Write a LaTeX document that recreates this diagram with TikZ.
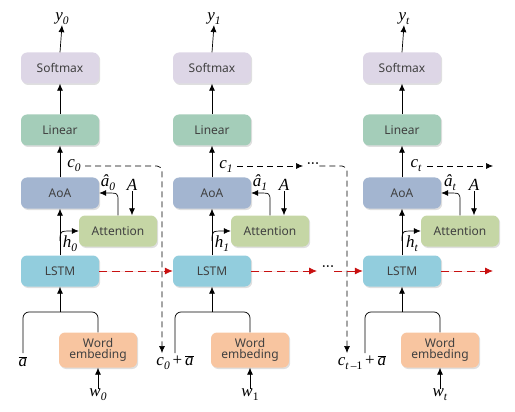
\documentclass[tikz,border=0pt]{standalone}
\usepackage{fontspec}
\newfontfamily\boxfont{Noto Sans}
\newfontfamily\labfont{Liberation Serif}
\usetikzlibrary{arrows.meta,shadows,calc}
\definecolor{csoft}{RGB}{221,214,230}
\definecolor{clin}{RGB}{164,205,185}
\definecolor{caoa}{RGB}{163,181,208}
\definecolor{catt}{RGB}{197,214,165}
\definecolor{clstm}{RGB}{146,205,221}
\definecolor{cwe}{RGB}{248,197,160}
\definecolor{ctxt}{RGB}{64,64,64}
\definecolor{cred}{RGB}{200,16,16}
\newcommand\lsub[1]{\raisebox{-4pt}{\fontsize{11.5}{12}\selectfont #1}}
\newcommand\lv[2]{\textit{#1}\lsub{\textit{#2}}}
\newcommand\abar{$\overline{\hbox{\textit{a}}}$}
\tikzset{
  blk/.style={rounded corners=6pt, minimum width=78pt, minimum height=31pt, inner sep=0pt,
    font=\boxfont\fontsize{12}{13.5}\selectfont, text=ctxt, align=center,
    drop shadow={opacity=0.25, shadow xshift=1.2pt, shadow yshift=-1.5pt}},
  lab/.style={inner sep=0pt, font=\labfont\fontsize{17}{19}\selectfont},
  arr/.style={-{Latex[length=7pt,width=6pt]}, line width=0.7pt, draw=black},
  ln/.style={line width=0.7pt},
  cdash/.style={-{Latex[length=7pt,width=6pt]}, line width=0.7pt, dash pattern=on 6pt off 4pt},
  rdash/.style={-{Latex[length=8pt,width=7pt]}, line width=0.8pt, draw=cred, fill=cred, dash pattern=on 8pt off 5pt},
  dots/.style={inner sep=0pt, font=\bfseries\fontsize{13}{13}\selectfont},
}
\begin{document}
\begin{tikzpicture}[x=1pt,y=-1pt]
\path[use as bounding box] (0,0) rectangle (515,412);
\foreach \n/\xc/\s in {0/60/0, 1/212/1, 2/402/t}{
  \node[blk, fill=csoft] (sm\n) at (\xc,68) {Softmax};
  \node[blk, fill=clin] (lin\n) at (\xc,130) {Linear};
  \node[blk, fill=caoa] (aoa\n) at (\xc,193) {AoA};
  \node[blk, fill=catt] (att\n) at (\xc+58,231) {Attention};
  \node[blk, fill=clstm] (lstm\n) at (\xc,271) {LSTM};
  \node[blk, fill=cwe, minimum height=35pt] (we\n) at (\xc+38,350) {Word\\[-3pt]embeding};
  \node[lab] (y\n) at (\xc+2,19) {\lv{y}{\s}};
  \node[lab] (c\n) at (\xc+14,166) {\lv{c}{\s}};
  \node[lab] (ah\n) at (\xc+48,183) {\lv{â}{\s}};
  \node[lab] (A\n) at (\xc+72,185) {\textit{A}};
  \node[lab] (h\n) at (\xc+10,244) {\lv{h}{\s}};
  \coordinate (hs\n) at (\xc,241);
  \coordinate (ar\n) at (\xc+58,201);
  \coordinate (top\n) at (\xc,312);
  \coordinate (bl\n) at (\xc-37,353);
  \coordinate (cs\n) at (\xc+25,166);
  \draw[arr] (sm\n.north) -- (y\n.south);
  \draw[arr] (lin\n.north) -- (sm\n.south);
  \draw[arr] (aoa\n.north) -- (lin\n.south);
  \draw[arr] (lstm\n.north) -- (aoa\n.south);
  \draw[arr] (hs\n) .. controls (\xc,231) .. (att\n.west);
  \draw[arr] (att\n.north) -- (ar\n) .. controls (\xc+58,193) .. (aoa\n.east);
  \draw[arr] (A\n.south) -- (A\n.south |- att\n.north);
  \draw[ln, rounded corners=6pt] (bl\n) |- (we\n.north |- top\n) -- (we\n.north);
  \draw[arr] (top\n) -- (lstm\n.south);
}
\node[lab] (w0) at (98,395) {\lv{w}{0}};
\node[lab] (w1) at (250,395) {\textit{w}\lsub{1}};
\node[lab] (w2) at (440,395) {\lv{w}{t}};
\foreach \n in {0,1,2}{\draw[arr] (w\n.north) -- (we\n.south);}
\node[lab] (in0) at (23,362) {\abar};
\node[lab] (in1) at (175,363) {\lv{c}{0}\,+\,\abar};
\node[lab] (in2) at (362,363) {\textit{c}\lsub{\textit{t}\,\textendash1}\,+\,\abar};
% c dashed lines
\coordinate (cc0) at (162,166);
\coordinate (ce0) at (162,353);
\draw[cdash, rounded corners=5pt] (cs0) -- (cc0) -- (ce0);
\coordinate (cm1) at (303,166);
\node[dots] (dc) at (313,164) {...};
\coordinate (cc1) at (347,166);
\coordinate (ce1) at (347,353);
\draw[cdash] (cs1) -- (cm1);
\draw[cdash, rounded corners=5pt] (dc.east |- cc1) -- (cc1) -- (ce1);
\coordinate (ce2) at (493,166);
\draw[cdash] (cs2) -- (ce2);
% red dashed
\draw[rdash] (lstm0.east) -- (lstm1.west);
\coordinate (r1) at (317,271);
\draw[rdash] (lstm1.east) -- (r1);
\node[dots] (dr) at (328,267) {...};
\draw[rdash] (dr.east |- r1) -- (lstm2.west);
\coordinate (r2) at (493,271);
\draw[rdash] (lstm2.east) -- (r2);
\end{tikzpicture}
\end{document}
